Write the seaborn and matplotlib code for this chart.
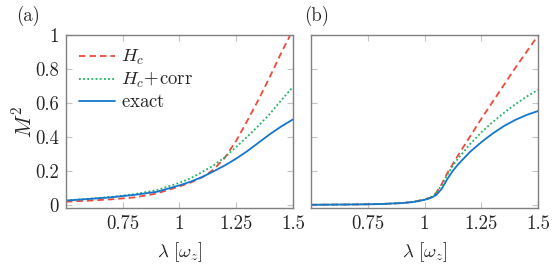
import pandas as pd
import seaborn as sns
import matplotlib.pyplot as plt

sns.set_theme()
sns.set_style("ticks")
plt.rcParams['font.family'] = ['cmr10', 'DejaVu Serif']
plt.rcParams['mathtext.fontset'] = 'cm'
plt.rcParams['axes.unicode_minus'] = False

# panel (a)
lam_a = [0.5, 0.6, 0.7, 0.8, 0.9, 1.0, 1.05, 1.1, 1.15, 1.2, 1.25, 1.3, 1.35, 1.4, 1.45, 1.5]
hc_a = [0.022, 0.028, 0.036, 0.047, 0.07, 0.112, 0.135, 0.165, 0.21, 0.28, 0.38, 0.5, 0.625, 0.76, 0.9, 1.03]
corr_a = [0.029, 0.039, 0.05, 0.066, 0.09, 0.133, 0.16, 0.196, 0.235, 0.283, 0.343, 0.405, 0.47, 0.54, 0.62, 0.695]
exact_a = [0.029, 0.038, 0.048, 0.062, 0.08, 0.118, 0.14, 0.167, 0.2, 0.235, 0.275, 0.32, 0.37, 0.42, 0.465, 0.505]

# panel (b)
lam_b = [0.5, 0.6, 0.7, 0.8, 0.9, 0.95, 1.0, 1.025, 1.05, 1.075, 1.1, 1.125, 1.15, 1.2, 1.25, 1.3, 1.35, 1.4, 1.45, 1.5]
hc_b = [0.004, 0.005, 0.006, 0.008, 0.014, 0.021, 0.035, 0.046, 0.072, 0.125, 0.19, 0.245, 0.3, 0.405, 0.51, 0.61, 0.71, 0.81, 0.905, 1.0]
corr_b = [0.004, 0.005, 0.006, 0.008, 0.014, 0.021, 0.035, 0.045, 0.07, 0.12, 0.18, 0.235, 0.28, 0.36, 0.43, 0.49, 0.545, 0.595, 0.64, 0.68]
exact_b = [0.004, 0.005, 0.006, 0.008, 0.014, 0.02, 0.033, 0.043, 0.06, 0.097, 0.155, 0.205, 0.245, 0.315, 0.372, 0.423, 0.467, 0.503, 0.532, 0.555]

labels = [r'$H_c$', r'$H_c\!+\!\mathrm{corr}$', r'$\mathrm{exact}$']
colors = ['#ee4a3a', '#1db35e', '#1676cc']
styles = [(0, (3.6, 2.2)), (0, (1, 1.3)), '-']

xticks = [0.75, 1, 1.25, 1.5]
xtick_labels = ['0.75', '1', '1.25', '1.5']
yticks = [0, 0.2, 0.4, 0.6, 0.8, 1]
ytick_labels = ['0', '0.2', '0.4', '0.6', '0.8', '1']

FS = 13.5

fig = plt.figure(figsize=(5.59, 2.66), dpi=100)
ax_a = fig.add_axes([0.118, 0.218, 0.406, 0.650])
ax_b = fig.add_axes([0.556, 0.218, 0.407, 0.650])

panels = [(ax_a, lam_a, [hc_a, corr_a, exact_a], '(a)'),
          (ax_b, lam_b, [hc_b, corr_b, exact_b], '(b)')]

for ax, lam, series, tag in panels:
    for vals, lab, col, ls in zip(series, labels, colors, styles):
        df = pd.DataFrame({'lam': lam, 'm2': vals})
        sns.lineplot(data=df, x='lam', y='m2', ax=ax, color=col, linestyle=ls,
                     linewidth=1.3, label=lab, sort=False)
    ax.set_xlim(0.5, 1.5)
    ax.set_ylim(-0.015, 1.0)
    ax.set_xticks(xticks)
    ax.set_yticks(yticks)
    ax.set_xticklabels(xtick_labels, fontsize=FS)
    ax.tick_params(direction='in', length=4, color='#c4c4c4', width=0.8,
                   top=True, right=True, labelsize=FS, pad=5)
    for sp in ax.spines.values():
        sp.set_color('#808080')
        sp.set_linewidth(1.0)
    ax.set_xlabel(r'$\lambda\ [\omega_z]$', fontsize=FS, labelpad=5)
    ax.text(-0.03 if tag == '(b)' else -0.22, 1.05, tag, transform=ax.transAxes,
            fontsize=FS, ha='left', va='bottom')

ax_a.set_yticklabels(ytick_labels, fontsize=FS)
ax_a.set_ylabel(r'$M^2$', fontsize=15.5, labelpad=0)
ax_b.set_yticklabels([])
ax_b.set_ylabel('')
ax_b.get_legend().remove()
ax_a.legend(loc='upper left', frameon=False, fontsize=FS, handlelength=1.9,
            handletextpad=0.35, labelspacing=0.15, borderaxespad=0.4,
            borderpad=0.3)

fig.savefig('out.png', dpi=100)
